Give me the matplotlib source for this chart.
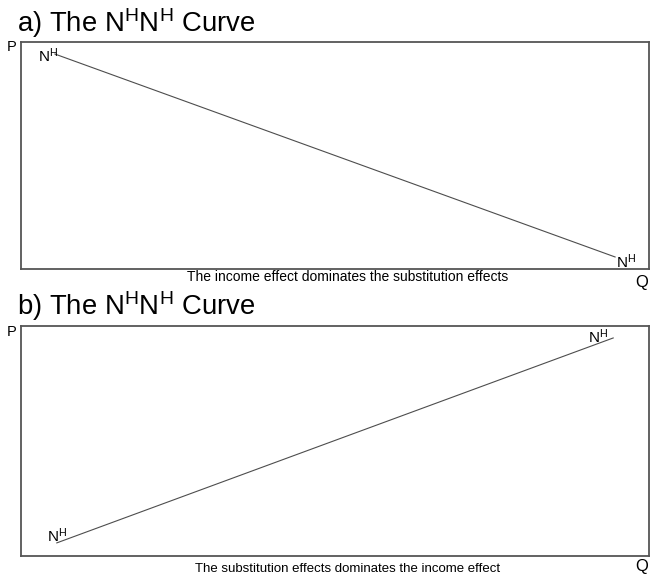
import matplotlib
matplotlib.use("Agg")
import matplotlib.pyplot as plt

plt.rcParams['font.family'] = ['Liberation Sans', 'DejaVu Sans']
plt.rcParams['mathtext.fontset'] = 'custom'
plt.rcParams['mathtext.rm'] = 'Liberation Sans'
plt.rcParams['mathtext.it'] = 'Liberation Sans'

W, H = 656, 579

# line end points (data units, axes run 0..10)
a_x = [0.54, 9.46]
a_y = [9.47, 0.53]
b_x = [0.57, 9.43]
b_y = [0.57, 9.48]

titles = [r'a) The N$^{\mathrm{H}}$N$^{\mathrm{H}}$ Curve',
          r'b) The N$^{\mathrm{H}}$N$^{\mathrm{H}}$ Curve']
captions = ['The income effect dominates the substitution effects',
            'The substitution effects dominates the income effect']
curve_label = r'N$^{\mathrm{H}}$'

fig = plt.figure(figsize=(W / 100, H / 100), dpi=100)


def px_axes(left, top, right, bottom):
    return fig.add_axes([left / W, 1 - bottom / H, (right - left) / W, (bottom - top) / H])


def fx(x):
    return x / W


def fy(y):
    return 1 - y / H


panels = [
    (px_axes(21, 42, 649, 269), a_x, a_y, [(-7, -8), (11, -11)]),
    (px_axes(21, 326, 649, 556), b_x, b_y, [(0, 1), (-15, -5)]),
]

for ax, xs, ys, offs in panels:
    ax.plot(xs, ys, color='#4d4d4d', lw=0.8)
    ax.set_xlim(0, 10)
    ax.set_ylim(0, 10)
    ax.set_xticks([])
    ax.set_yticks([])
    for s in ax.spines.values():
        s.set_color('#555555')
        s.set_linewidth(1.3)
    for x, y, off in zip(xs, ys, offs):
        ax.annotate(curve_label, (x, y), xytext=off, textcoords='offset pixels',
                    ha='center', va='baseline', fontsize=11)

# titles
fig.text(fx(17), fy(32), titles[0], fontsize=19.8, ha='left', va='baseline')
fig.text(fx(17), fy(315), titles[1], fontsize=19.8, ha='left', va='baseline')

# axis letters
fig.text(fx(12), fy(47), 'P', fontsize=10.5, ha='center', va='center')
fig.text(fx(12), fy(332), 'P', fontsize=10.5, ha='center', va='center')
fig.text(fx(642), fy(283), 'Q', fontsize=12, ha='center', va='center')
fig.text(fx(642), fy(567), 'Q', fontsize=12, ha='center', va='center')

# captions
fig.text(fx(348), fy(277), captions[0], fontsize=10, ha='center', va='center')
fig.text(fx(348), fy(569), captions[1], fontsize=9.5, ha='center', va='center')

fig.savefig('out.png', dpi=100)
